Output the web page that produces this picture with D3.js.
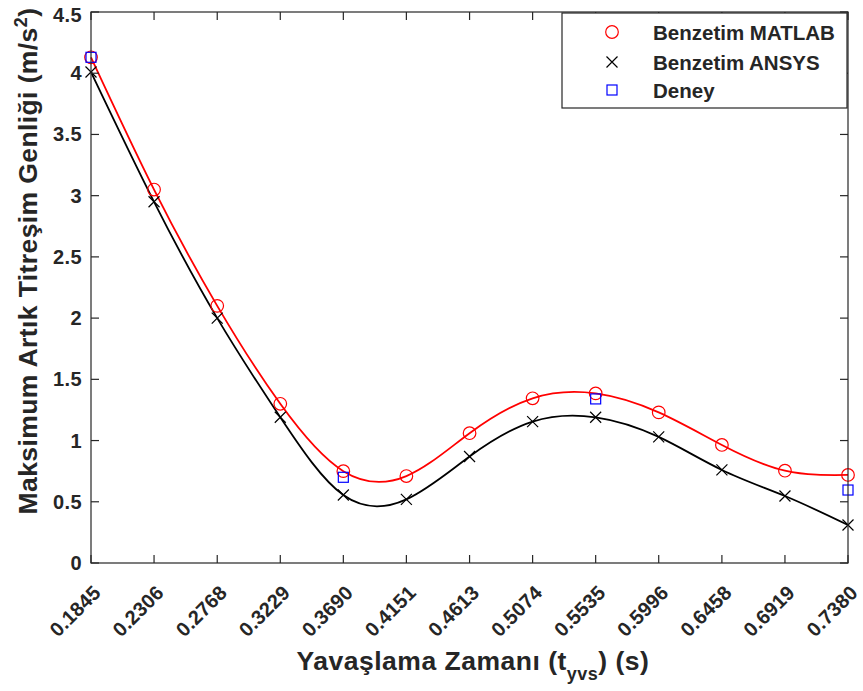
<!DOCTYPE html>
<html>
<head>
<meta charset="utf-8">
<script src="https://cdn.jsdelivr.net/npm/d3@7"></script>
<style>
  html, body { margin: 0; padding: 0; background: #fff; }
  svg { display: block; }
  text { font-family: "Liberation Sans", Arial, sans-serif; font-weight: bold; fill: #262626; }
</style>
</head>
<body>
<svg id="chart" width="863" height="691"></svg>
<script>
// ---- data ----
const xTicks = [0.1845, 0.2306, 0.2768, 0.3229, 0.3690, 0.4151, 0.4613, 0.5074, 0.5535, 0.5996, 0.6458, 0.6919, 0.7380];
const xTickLabels = ["0.1845", "0.2306", "0.2768", "0.3229", "0.3690", "0.4151", "0.4613", "0.5074", "0.5535", "0.5996", "0.6458", "0.6919", "0.7380"];
const yTicks = [0, 0.5, 1, 1.5, 2, 2.5, 3, 3.5, 4, 4.5];
const yTickLabels = ["0", "0.5", "1", "1.5", "2", "2.5", "3", "3.5", "4", "4.5"];
const matlabValues = [4.13, 3.05, 2.10, 1.30, 0.75, 0.71, 1.06, 1.345, 1.385, 1.23, 0.964, 0.754, 0.719];
const ansysValues = [4.01, 2.95, 2.00, 1.19, 0.555, 0.52, 0.87, 1.155, 1.19, 1.03, 0.76, 0.547, 0.31];
const deneyX = [0.1845, 0.3690, 0.5535, 0.7380];
const deneyValues = [4.13, 0.70, 1.34, 0.596];
const legendLabels = ["Benzetim MATLAB", "Benzetim ANSYS", "Deney"];

// ---- layout ----
const svg = d3.select("#chart");
const L = 91, R = 848, T = 12, B = 563;
const x = d3.scaleLinear().domain([0.1845, 0.7380]).range([L, R]);
const y = d3.scaleLinear().domain([0, 4.5]).range([B, T]);
const axisColor = "#262626";

svg.append("rect").attr("x", L).attr("y", T).attr("width", R - L).attr("height", B - T).attr("fill", "#fff");

// curves
const line = d3.line().x(d => x(d[0])).y(d => y(d[1])).curve(d3.curveNatural);
const matlabPts = xTicks.map((v, i) => [v, matlabValues[i]]);
const ansysPts = xTicks.map((v, i) => [v, ansysValues[i]]);
const deneyPts = deneyX.map((v, i) => [v, deneyValues[i]]);

svg.append("path").attr("d", line(matlabPts)).attr("fill", "none").attr("stroke", "#ff0000").attr("stroke-width", 1.8);
svg.append("path").attr("d", line(ansysPts)).attr("fill", "none").attr("stroke", "#000").attr("stroke-width", 1.8);

// markers
function drawCircle(g, cx, cy) {
  g.append("circle").attr("cx", cx).attr("cy", cy).attr("r", 6.3).attr("fill", "none").attr("stroke", "#ff0000").attr("stroke-width", 1.2);
}
function drawCross(g, cx, cy) {
  const s = 5.5;
  g.append("path").attr("d", `M${cx - s},${cy - s}L${cx + s},${cy + s}M${cx - s},${cy + s}L${cx + s},${cy - s}`)
    .attr("stroke", "#000").attr("stroke-width", 1.2).attr("fill", "none");
}
function drawSquare(g, cx, cy) {
  const s = 5;
  g.append("rect").attr("x", cx - s).attr("y", cy - s).attr("width", 2 * s).attr("height", 2 * s)
    .attr("fill", "none").attr("stroke", "#0000ff").attr("stroke-width", 1.2);
}
const mg = svg.append("g");
matlabPts.forEach(p => drawCircle(mg, x(p[0]), y(p[1])));
ansysPts.forEach(p => drawCross(mg, x(p[0]), y(p[1])));
deneyPts.forEach(p => drawSquare(mg, x(p[0]), y(p[1])));

// axes box + ticks
const tickLen = 8;
const ax = svg.append("g").attr("stroke", axisColor).attr("stroke-width", 1.2).attr("fill", "none");
ax.append("rect").attr("x", L).attr("y", T).attr("width", R - L).attr("height", B - T);
xTicks.forEach(v => {
  ax.append("line").attr("x1", x(v)).attr("x2", x(v)).attr("y1", B).attr("y2", B - tickLen);
  ax.append("line").attr("x1", x(v)).attr("x2", x(v)).attr("y1", T).attr("y2", T + tickLen);
});
yTicks.forEach(v => {
  ax.append("line").attr("x1", L).attr("x2", L + tickLen).attr("y1", y(v)).attr("y2", y(v));
  ax.append("line").attr("x1", R).attr("x2", R - tickLen).attr("y1", y(v)).attr("y2", y(v));
});

// tick labels
const fs = 20;
yTicks.forEach((v, i) => {
  svg.append("text").attr("x", 82).attr("y", Math.max(y(v) + 7, 22))
    .attr("text-anchor", "end").attr("font-size", fs).attr("letter-spacing", 0.4).text(yTickLabels[i]);
});
xTicks.forEach((v, i) => {
  svg.append("text")
    .attr("transform", `translate(${x(v) + 11},${B + 31}) rotate(-45)`)
    .attr("text-anchor", "end").attr("font-size", fs).attr("letter-spacing", 0.2).text(xTickLabels[i]);
});

// axis labels
const xl = svg.append("text").attr("x", 473).attr("y", 670).attr("text-anchor", "middle").attr("font-size", 26.5).attr("letter-spacing", 0.5);
xl.append("tspan").text("Yavaşlama Zamanı (t");
xl.append("tspan").attr("font-size", 18).attr("dy", 10).text("yvs");
xl.append("tspan").attr("dy", -10).text(") (s)");

const yl = svg.append("text").attr("transform", "translate(37,261) rotate(-90)").attr("text-anchor", "middle").attr("font-size", 26.5).attr("letter-spacing", 0.4);
yl.append("tspan").text("Maksimum Artık Titreşim Genliği (m/s");
yl.append("tspan").attr("font-size", 18).attr("dy", -10).text("2");
yl.append("tspan").attr("dy", 10).text(")");

// legend
const lg = svg.append("g");
lg.append("rect").attr("x", 562).attr("y", 13).attr("width", 285).attr("height", 95)
  .attr("fill", "#fff").attr("stroke", axisColor).attr("stroke-width", 1.2);
const legYs = [32, 62, 90];
drawCircle(lg, 612, legYs[0]);
drawCross(lg, 612, legYs[1]);
drawSquare(lg, 612, legYs[2]);
legendLabels.forEach((t, i) => {
  lg.append("text").attr("x", 653).attr("y", legYs[i] + 7.5).attr("font-size", 20.5).text(t);
});
</script>
</body>
</html>
